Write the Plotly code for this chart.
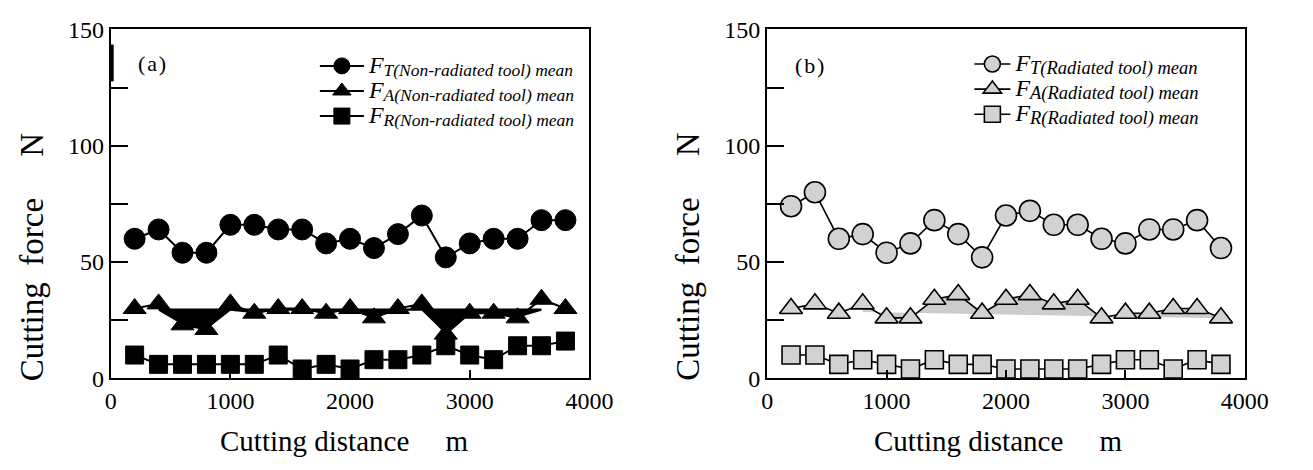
import plotly.graph_objects as go

# ---------------- data ----------------
distance = [200, 400, 600, 800, 1000, 1200, 1400, 1600, 1800, 2000,
            2200, 2400, 2600, 2800, 3000, 3200, 3400, 3600, 3800]

# (a) non-radiated tool
ft_non = [60, 64, 54, 54, 66, 66, 64, 64, 58, 60, 56, 62, 70, 52, 58, 60, 60, 68, 68]
fa_non = [30, 32, 23, 21, 32, 28, 30, 30, 28, 30, 26, 30, 32, 19, 28, 28, 26, 34, 30]
fr_non = [10, 6, 6, 6, 6, 6, 10, 4, 6, 4, 8, 8, 10, 14, 10, 8, 14, 14, 16]

# (b) radiated tool
ft_rad = [74, 80, 60, 62, 54, 58, 68, 62, 52, 70, 72, 66, 66, 60, 58, 64, 64, 68, 56]
fa_rad = [30, 32, 28, 32, 26, 26, 34, 36, 28, 34, 36, 32, 34, 26, 28, 28, 30, 30, 26]
fr_rad = [10, 10, 6, 8, 6, 4, 8, 6, 6, 4, 4, 4, 4, 6, 8, 8, 4, 8, 6]

# shaded band (a): between a level and the F_A curve
shade_a_x = [400, 600, 800, 1000, 1200, 1400, 1600, 1800, 2000,
             2200, 2400, 2600, 2800, 3000, 3200, 3400, 3600]
shade_a_upper = [30, 30, 30, 30, 30, 30, 30, 30, 30, 30, 30, 30, 30, 30, 30, 30, 30]
shade_a_lower = [29, 23, 21, 29, 28, 29, 29, 28, 29, 26, 29, 29, 19, 28, 28, 26, 29]

# shaded band (b): between the F_A curve and a lower edge
shade_b_x = [800, 1000, 1200, 1400, 1600, 1800, 2000, 2200, 2400,
             2600, 2800, 3000, 3200, 3400, 3600, 3800]
shade_b_upper = [32, 26, 26, 34, 36, 28, 34, 36, 32, 34, 26, 28, 28, 30, 30, 26]
shade_b_lower = [28.5, 28.3, 28.1, 27.9, 27.7, 27.5, 27.4, 27.2, 27.0,
                 26.8, 26.6, 26.4, 26.3, 26.1, 26.0, 25.8]

x_ticks = [0, 1000, 2000, 3000, 4000]
y_ticks = [0, 50, 100, 150]

subs_a = ["T(Non-radiated tool) mean", "A(Non-radiated tool) mean", "R(Non-radiated tool) mean"]
subs_b = ["T(Radiated tool) mean", "A(Radiated tool) mean", "R(Radiated tool) mean"]


def legend_label(sub, sub_size):
    return ('<span style="font-size:24px"><i>F</i></span>'
            '<sub><span style="font-size:' + str(sub_size) + 'px"><i>' + sub +
            '</i></span></sub>')


# ---------------- figure ----------------
# the page body adds an 8px margin; the figure is sized so that it fits the window
OFF = 8
W, H = 1313 - 2 * OFF, 470 - 2 * OFF
FONT = "Liberation Serif, Times New Roman, serif"
GRAY = "#d2d2d2"


def px_x(p):
    return (p - OFF) / W


def px_y(p):
    return 1 - (p - OFF) / H


fig = go.Figure()

# shading (a)
fig.add_trace(go.Scatter(x=shade_a_x, y=shade_a_upper, mode="lines",
                         line=dict(width=0, color="black"), showlegend=False,
                         hoverinfo="skip", xaxis="x", yaxis="y"))
fig.add_trace(go.Scatter(x=shade_a_x, y=shade_a_lower, mode="lines", fill="tonexty",
                         fillcolor="black", line=dict(width=0, color="black"),
                         showlegend=False, hoverinfo="skip", xaxis="x", yaxis="y"))
# shading (b)
fig.add_trace(go.Scatter(x=shade_b_x, y=shade_b_lower, mode="lines",
                         line=dict(width=0, color=GRAY), showlegend=False,
                         hoverinfo="skip", xaxis="x2", yaxis="y2"))
fig.add_trace(go.Scatter(x=shade_b_x, y=shade_b_upper, mode="lines", fill="tonexty",
                         fillcolor="#cccccc", line=dict(width=0, color=GRAY),
                         showlegend=False, hoverinfo="skip", xaxis="x2", yaxis="y2"))

symbols = ["circle", "triangle-up", "square"]
sizes = [21, 20, 18]

for series, sym, sz, sub in zip([ft_non, fa_non, fr_non], symbols, sizes, subs_a):
    fig.add_trace(go.Scatter(
        x=distance, y=series, mode="lines+markers", name=legend_label(sub, 17.5),
        line=dict(color="black", width=2),
        marker=dict(symbol=sym, size=sz, color="black",
                    line=dict(color="black", width=1)),
        xaxis="x", yaxis="y", legend="legend"))

for series, sym, sz, sub in zip([ft_rad, fa_rad, fr_rad], symbols, sizes, subs_b):
    fig.add_trace(go.Scatter(
        x=distance, y=series, mode="lines+markers", name=legend_label(sub, 18.5),
        line=dict(color="black", width=1.6),
        marker=dict(symbol=sym, size=sz, color=GRAY,
                    line=dict(color="black", width=1.6)),
        xaxis="x2", yaxis="y2", legend="legend2"))

xdom_a = [px_x(107), px_x(597)]
xdom_b = [px_x(779), px_x(1268)]
ydom = [px_y(387), px_y(17)]

xaxis_common = dict(range=[0, 4000], tickvals=x_ticks, ticks="inside", ticklen=8,
                    tickwidth=2, tickcolor="black", showline=True, linewidth=2,
                    linecolor="black", mirror=True, showgrid=False, zeroline=False,
                    ticklabeloverflow="allow",
                    tickfont=dict(family=FONT, size=24, color="black"))
yaxis_common = dict(range=[0, 150], tickvals=y_ticks,
                    ticks="inside", ticklen=17, tickwidth=2, tickcolor="black",
                    minor=dict(ticks="inside", ticklen=17, tickwidth=2, tickcolor="black",
                               dtick=25, tick0=0, showgrid=False),
                    showline=True, linewidth=2, linecolor="black", mirror=True,
                    showgrid=False, zeroline=False, ticklabeloverflow="allow",
                    tickfont=dict(family=FONT, size=24, color="black"))

legend_common = dict(font=dict(family=FONT, size=17, color="black"),
                     bgcolor="rgba(0,0,0,0)", borderwidth=0,
                     xanchor="left", yanchor="top", tracegroupgap=0,
                     traceorder="normal")

fig.update_layout(
    width=W, height=H,
    margin=dict(l=0, r=0, t=0, b=0),
    paper_bgcolor="white", plot_bgcolor="white",
    font=dict(family=FONT, color="black"),
    xaxis=dict(domain=xdom_a, anchor="y", **xaxis_common),
    yaxis=dict(domain=ydom, anchor="x", **yaxis_common),
    xaxis2=dict(domain=xdom_b, anchor="y2", **xaxis_common),
    yaxis2=dict(domain=ydom, anchor="x2", **yaxis_common),
    legend=dict(x=px_x(316), y=px_y(37), itemwidth=44, **legend_common),
    legend2=dict(x=px_x(986), y=px_y(35), itemwidth=36, **legend_common),
    showlegend=True,
)

annotations = []
title_font = dict(family=FONT, size=29, color="black")
ytitle_font = dict(family=FONT, size=33, color="black")
NB = "\u00a0"
HS = "\u200a"
for cx in (346, 1016):
    annotations.append(dict(text="Cutting distance" + NB * 5 + "m", xref="paper", yref="paper",
                            x=px_x(cx), y=px_y(454), xanchor="center", yanchor="middle",
                            showarrow=False, font=title_font))
for cx in (26, 698):
    annotations.append(dict(text="Cutting" + NB * 2 + "force" + NB * 5 + "N", xref="paper",
                            yref="paper", x=px_x(cx), y=px_y(258), xanchor="center",
                            yanchor="middle", textangle=-90, showarrow=False,
                            font=ytitle_font))
for label, cx, cy in (("a", 149, 53), ("b", 822, 55)):
    annotations.append(dict(text="(" + HS + label + HS + ")", xref="paper", yref="paper",
                            x=px_x(cx), y=px_y(cy), xanchor="center", yanchor="middle",
                            showarrow=False,
                            font=dict(family=FONT, size=22, color="black")))
fig.update_layout(annotations=annotations)

# thick segment on left axis of panel (a) near the top
fig.add_shape(type="line", xref="paper", yref="paper", x0=px_x(108), x1=px_x(108),
              y0=px_y(33), y1=px_y(72), line=dict(color="black", width=4))

fig.write_html("out.html")
